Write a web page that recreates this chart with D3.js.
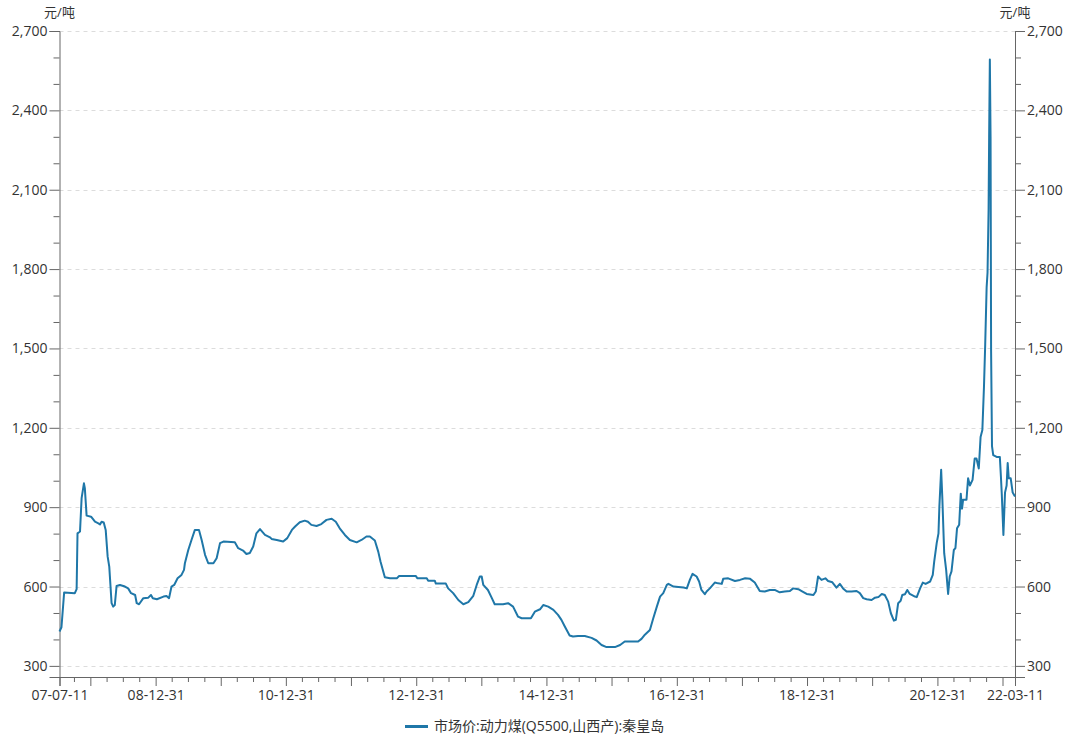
<!DOCTYPE html>
<html>
<head>
<meta charset="utf-8">
<script src="https://cdn.jsdelivr.net/npm/d3@7"></script>
<style>
  body { margin: 0; background: #fff; }
  svg text { font-family: "Open Sans", "Noto Sans CJK SC", sans-serif; fill: #333; }
</style>
</head>
<body>
<div id="chart"></div>
<script>
const dates = [
  "2007-07-11","2007-07-22","2007-08-06","2007-10-05","2007-10-15","2007-10-20","2007-11-03","2007-11-12","2007-11-25","2007-11-30",
  "2007-12-10","2008-01-04","2008-01-26","2008-02-14","2008-02-23","2008-03-03","2008-03-15","2008-03-26","2008-04-06","2008-04-15",
  "2008-04-28","2008-05-07","2008-05-16","2008-05-26","2008-06-14","2008-07-12","2008-07-30","2008-08-15","2008-09-07","2008-09-16",
  "2008-09-29","2008-10-23","2008-11-20","2008-12-05","2008-12-15","2009-01-07","2009-02-13","2009-03-02","2009-03-16","2009-03-30",
  "2009-04-14","2009-05-03","2009-05-25","2009-06-08","2009-06-13","2009-07-02","2009-07-20","2009-08-08","2009-08-31","2009-09-15",
  "2009-10-04","2009-10-22","2009-11-20","2009-12-08","2009-12-27","2010-01-15","2010-03-20","2010-04-08","2010-05-05","2010-05-24",
  "2010-06-12","2010-07-01","2010-07-19","2010-08-08","2010-09-05","2010-10-03","2010-10-12","2010-11-10","2010-12-16","2011-01-08",
  "2011-02-03","2011-02-21","2011-03-19","2011-04-16","2011-05-04","2011-05-23","2011-06-21","2011-07-18","2011-08-16","2011-09-14",
  "2011-10-07","2011-10-29","2011-11-27","2011-12-25","2012-02-01","2012-02-28","2012-03-27","2012-04-15","2012-05-13","2012-06-01",
  "2012-06-14","2012-07-08","2012-08-06","2012-09-13","2012-09-26","2012-12-28","2013-01-07","2013-02-28","2013-03-08","2013-04-14",
  "2013-04-20","2013-06-15","2013-06-28","2013-07-26","2013-08-24","2013-09-21","2013-10-19","2013-11-16","2013-12-05","2013-12-23",
  "2014-01-02","2014-01-11","2014-02-06","2014-02-28","2014-03-16","2014-05-02","2014-05-30","2014-06-27","2014-07-25","2014-08-14",
  "2014-10-05","2014-10-27","2014-11-25","2014-12-13","2015-01-10","2015-02-08","2015-03-06","2015-03-25","2015-04-13","2015-04-28",
  "2015-05-10","2015-05-29","2015-06-26","2015-08-03","2015-09-10","2015-10-08","2015-11-05","2015-12-03","2016-01-19","2016-02-17",
  "2016-03-14","2016-05-28","2016-06-16","2016-07-05","2016-08-02","2016-08-21","2016-09-10","2016-09-28","2016-10-16","2016-11-05",
  "2016-11-14","2016-12-12","2017-02-07","2017-02-25","2017-03-14","2017-03-29","2017-04-21","2017-05-05","2017-05-18","2017-06-06",
  "2017-06-16","2017-07-04","2017-08-01","2017-08-20","2017-09-09","2017-09-17","2017-10-15","2017-11-22","2017-12-20","2018-01-18",
  "2018-02-15","2018-03-13","2018-04-10","2018-05-08","2018-06-05","2018-07-03","2018-07-31","2018-08-28","2018-09-26","2018-10-14",
  "2018-11-12","2018-12-01","2018-12-29","2019-02-05","2019-02-18","2019-03-03","2019-03-22","2019-04-13","2019-04-28","2019-05-22",
  "2019-06-14","2019-07-03","2019-07-21","2019-08-10","2019-09-07","2019-10-05","2019-10-23","2019-11-11","2019-11-30","2019-12-28",
  "2020-01-16","2020-02-04","2020-02-23","2020-03-11","2020-03-30","2020-04-14","2020-05-01","2020-05-12","2020-05-25","2020-06-08",
  "2020-06-17","2020-07-02","2020-07-15","2020-07-29","2020-08-27","2020-09-06","2020-09-25","2020-10-10","2020-10-26","2020-11-20",
  "2020-12-05","2020-12-13","2020-12-27","2021-01-06","2021-01-11","2021-01-21","2021-01-28","2021-02-07","2021-02-18","2021-03-01",
  "2021-03-10","2021-03-20","2021-04-02","2021-04-11","2021-04-20","2021-05-02","2021-05-11","2021-05-18","2021-05-24","2021-06-12",
  "2021-06-21","2021-07-01","2021-07-16","2021-07-28","2021-08-07","2021-08-20","2021-08-30","2021-09-09","2021-09-18","2021-09-25",
  "2021-10-03","2021-10-08","2021-10-14","2021-10-17","2021-10-21","2021-10-25","2021-10-28","2021-11-02","2021-11-09","2021-11-28",
  "2021-12-16","2021-12-22","2021-12-27","2022-01-05","2022-01-14","2022-01-23","2022-01-29","2022-02-04","2022-02-15","2022-02-26",
  "2022-03-11"
];
const prices = [
  430,446,577,575,590,801,808,934,990,972,
  868,864,845,839,835,845,842,814,713,675,
  537,524,530,602,606,600,593,575,568,537,
  533,556,558,568,556,552,562,564,556,600,
  606,631,644,663,688,738,776,814,814,776,
  720,688,688,707,764,770,767,745,736,723,
  727,751,801,817,795,786,780,776,770,783,
  814,827,843,849,845,833,829,836,852,856,
  845,820,795,776,767,776,789,789,774,732,
  694,635,631,631,640,640,631,631,622,622,
  611,611,593,575,549,533,541,565,606,638,
  638,606,587,556,533,533,537,524,486,480,
  480,505,514,530,524,512,493,474,449,430,
  415,411,413,413,406,396,379,371,371,379,
  392,392,402,418,436,480,524,562,575,606,
  610,600,596,593,625,648,638,619,587,571,
  581,593,615,612,610,629,631,621,625,631,
  629,615,583,581,587,587,578,581,583,593,
  590,583,572,568,581,638,625,631,621,616,
  596,610,593,581,581,583,575,556,552,549,
  558,560,572,568,543,499,471,474,537,546,
  568,571,587,572,562,560,593,615,610,619,
  644,694,764,801,902,1041,927,726,663,572,
  638,657,738,745,820,834,951,894,928,928,
  1009,982,1003,1084,1084,1046,1165,1192,1354,1516,
  1732,1786,2029,2299,2592,2299,1489,1131,1097,1090,
  1090,1016,948,795,955,982,1067,1009,1009,955,
  940
];
const seriesName = "市场价:动力煤(Q5500,山西产):秦皇岛";
const unitLabel = "元/吨";
const yTicks = [300, 600, 900, 1200, 1500, 1800, 2100, 2400, 2700];
const xLabelDates = ["2007-07-11","2008-12-31","2010-12-31","2012-12-31","2014-12-31","2016-12-31","2018-12-31","2020-12-31","2022-03-11"];

const W = 1065, H = 739;
const margin = {top: 31, right: 50, bottom: 62, left: 59.5};
const parse = d3.timeParse("%Y-%m-%d");
const data = dates.map((d, i) => ({date: parse(d), value: prices[i]}));

const start = parse(dates[0]), end = parse(dates[dates.length - 1]);

const x = d3.scaleTime()
    .domain([start, end])
    .range([margin.left, 1015]);
const y = d3.scaleLinear()
    .domain([258, 2700])
    .range([677, margin.top]);

const svg = d3.select("#chart").append("svg")
    .attr("width", W)
    .attr("height", H);

// gridlines
svg.append("g")
    .selectAll("line")
    .data(yTicks)
    .join("line")
    .attr("x1", x.range()[0])
    .attr("x2", x.range()[1])
    .attr("y1", d => Math.round(y(d)) + 0.5)
    .attr("y2", d => Math.round(y(d)) + 0.5)
    .attr("stroke", "#dcdcdc")
    .attr("stroke-dasharray", "4,4");

// y minor ticks
const yMinor = d3.range(300, 2701, 100).filter(v => v % 300 !== 0);

function styleAxis(g) {
  g.select(".domain").attr("stroke", "#666");
  g.selectAll(".tick line").attr("stroke", "#666");
  g.selectAll(".tick text").style("font-size", "14px").attr("fill", "#333");
}

[["left", x.range()[0]], ["right", x.range()[1]]].forEach(([side, px]) => {
  const mk = side === "left" ? d3.axisLeft : d3.axisRight;
  svg.append("g")
      .attr("transform", `translate(${px},0)`)
      .call(mk(y).tickValues(yTicks).tickSize(10).tickPadding(2).tickFormat(d3.format(",")))
      .call(styleAxis);
  svg.append("g")
      .attr("transform", `translate(${px},0)`)
      .call(mk(y).tickValues(yMinor).tickSize(6).tickFormat(""))
      .call(g => g.select(".domain").remove())
      .call(styleAxis);
  svg.append("text")
      .attr("x", px)
      .attr("y", 17)
      .attr("text-anchor", "middle")
      .style("font-size", "13px")
      .text(unitLabel);
});

// x axis ticks: quarter ends (minor), year ends (major)
const quarterEnds = [];
for (let yr = 2007; yr <= 2022; yr++) {
  [3, 6, 9, 12].forEach(m => quarterEnds.push(new Date(yr, m, 0)));
}
const inRange = quarterEnds.filter(d => d > start && d < end);
const yearEnds = inRange.filter(d => d.getMonth() === 11);
const qMinor = inRange.filter(d => d.getMonth() !== 11);
const labelSet = new Set(xLabelDates);
const fmt = d3.timeFormat("%y-%m-%d");
const fmtKey = d3.timeFormat("%Y-%m-%d");

svg.append("g")
    .attr("transform", `translate(0,677)`)
    .call(d3.axisBottom(x).tickValues([start, ...yearEnds, end]).tickSize(9).tickPadding(4)
      .tickFormat(d => labelSet.has(fmtKey(d)) ? fmt(d) : ""))
    .call(styleAxis);
svg.append("g")
    .attr("transform", `translate(0,677)`)
    .call(d3.axisBottom(x).tickValues(qMinor).tickSize(5).tickFormat(""))
    .call(g => g.select(".domain").remove())
    .call(styleAxis);

// line
const line = d3.line()
    .x(d => x(d.date))
    .y(d => y(d.value));

svg.append("path")
    .datum(data)
    .attr("fill", "none")
    .attr("stroke", "#1f77a8")
    .attr("stroke-width", 2)
    .attr("stroke-linejoin", "round")
    .attr("d", line);

// legend
const legend = svg.append("g").attr("transform", "translate(405,726)");
legend.append("line")
    .attr("x1", 0).attr("x2", 23)
    .attr("y1", 0.5).attr("y2", 0.5)
    .attr("stroke", "#1f77a8")
    .attr("stroke-width", 3);
legend.append("text")
    .attr("x", 29)
    .attr("y", 5)
    .style("font-size", "14px")
    .text(seriesName);
</script>
</body>
</html>
